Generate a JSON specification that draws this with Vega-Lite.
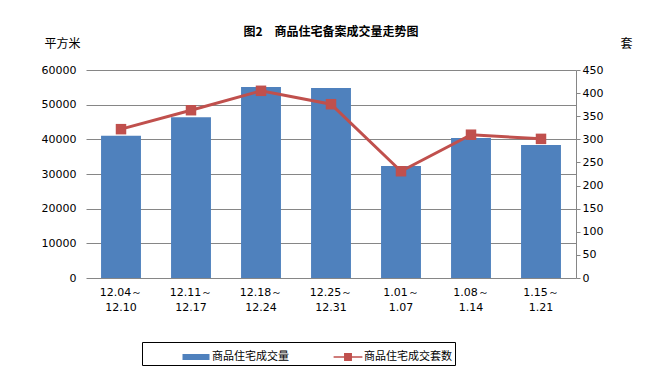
{
  "$schema": "https://vega.github.io/schema/vega-lite/v6.json",
  "width": 490,
  "height": 208,
  "autosize": {"type": "none"},
  "padding": {"left": 86, "top": 70, "right": 75, "bottom": 108},
  "background": "white",
  "title": {
    "text": "图2　商品住宅备案成交量走势图",
    "font": "Noto Sans CJK SC",
    "fontSize": 12,
    "fontWeight": "bold",
    "color": "black",
    "offset": -2,
    "anchor": "middle"
  },
  "config": {
    "view": {"stroke": null},
    "font": "Noto Sans CJK SC",
    "axis": {"labelFont": "DejaVu Sans", "labelFontSize": 11, "labelColor": "black", "titleFont": "Noto Sans CJK SC", "titleFontSize": 12, "titleFontWeight": "normal", "titleColor": "black"}
  },
  "data": {
    "values": [
      {"week": "12.04～|12.10", "area": 41000, "units": 322},
      {"week": "12.11～|12.17", "area": 46400, "units": 363},
      {"week": "12.18～|12.24", "area": 55100, "units": 405},
      {"week": "12.25～|12.31", "area": 54800, "units": 376},
      {"week": "1.01～|1.07", "area": 32300, "units": 231},
      {"week": "1.08～|1.14", "area": 40400, "units": 310},
      {"week": "1.15～|1.21", "area": 38400, "units": 301}
    ]
  },
  "encoding": {
    "x": {
      "field": "week",
      "type": "nominal",
      "sort": null,
      "scale": {"paddingInner": 0.43, "paddingOuter": 0.215},
      "axis": {
        "title": null,
        "labelAngle": 0,
        "labelExpr": "split(datum.label, '|')",
        "labelLineHeight": 15,
        "labelPadding": 8,
        "ticks": false,
        "domain": false,
        "labelFontSize": 11
      }
    }
  },
  "layer": [
    {
      "mark": {"type": "bar", "color": "#4F81BD"},
      "encoding": {
        "y": {
          "field": "area",
          "type": "quantitative",
          "scale": {"domain": [0, 60000], "nice": false},
          "axis": {
            "values": [0, 10000, 20000, 30000, 40000, 50000, 60000],
            "format": "d",
            "title": "平方米",
            "titleAngle": 0,
            "titleAnchor": "end",
            "titleAlign": "right",
            "titleBaseline": "bottom",
            "titleX": -6,
            "titleY": -20,
            "domain": false,
            "ticks": false,
            "labelPadding": 10,
            "grid": true,
            "gridColor": "#868686",
            "gridWidth": 1
          }
        },
        "color": {
          "datum": "商品住宅成交量",
          "scale": {"domain": ["商品住宅成交量", "商品住宅成交套数"], "range": ["#4F81BD", "#C0504D"]},
          "legend": {
            "title": null,
            "orient": "none",
            "direction": "horizontal",
            "legendX": 56,
            "legendY": 272,
            "padding": 3,
            "strokeColor": "black",
            "fillColor": "white",
            "symbolSize": 576,
            "symbolStrokeWidth": 0,
            "labelFont": "Noto Sans CJK SC",
            "labelFontSize": 11,
            "labelColor": "black",
            "columnPadding": 8,
            "labelOffset": 4,
            "symbolOffset": 39,
            "labelExpr": "datum.label === '商品住宅成交套数' ? datum.label + '　　　　  ' : datum.label",
            "encode": {
              "symbols": {
                "update": {
                  "shape": {"signal": "datum.value === '商品住宅成交量' ? 'M-1.125,-0.25H1.125V0.25H-1.125Z' : 'M-1.2,-0.065H1.2V0.065H-1.2Z M-0.33,-0.33H0.33V0.33H-0.33Z'"},
                  "fillOpacity": {"value": 1},
                  "strokeWidth": {"value": 0}
                }
              }
            }
          }
        }
      }
    },
    {
      "mark": {"type": "line", "color": "#C0504D", "strokeWidth": 3},
      "encoding": {
        "y": {
          "field": "units",
          "type": "quantitative",
          "scale": {"domain": [0, 450], "nice": false},
          "axis": {
            "orient": "right",
            "values": [0, 50, 100, 150, 200, 250, 300, 350, 400, 450],
            "title": "套",
            "titleAngle": 0,
            "titleAlign": "left",
            "titleBaseline": "bottom",
            "titleX": 44,
            "titleY": -20,
            "grid": false,
            "domain": true,
            "domainColor": "#868686",
            "ticks": true,
            "tickColor": "#868686",
            "tickSize": 4,
            "labelPadding": 2
          }
        },
        "color": {"datum": "商品住宅成交套数"}
      }
    },
    {
      "mark": {"type": "square", "color": "#C0504D", "size": 110, "opacity": 1, "filled": true},
      "encoding": {
        "y": {"field": "units", "type": "quantitative", "scale": {"domain": [0, 450], "nice": false}, "axis": null},
        "color": {"datum": "商品住宅成交套数"}
      }
    }
  ],
  "resolve": {"scale": {"y": "independent"}}
}
